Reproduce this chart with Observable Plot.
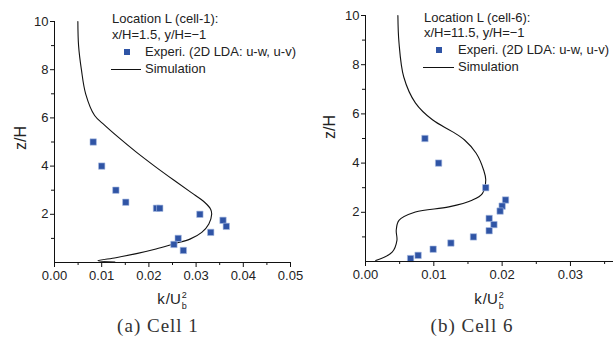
<!DOCTYPE html>
<html>
<head>
<meta charset="utf-8">
<script src="https://cdn.jsdelivr.net/npm/d3@7"></script>
<script src="https://cdn.jsdelivr.net/npm/@observablehq/plot@0.6"></script>
<style>
  body { margin: 0; background: #fff; }
  #wrap { position: relative; width: 613px; height: 342px; overflow: hidden;
          font-family: "Liberation Sans", Arial, sans-serif; color: #222; }
  #wrap svg { position: absolute; top: 0; }
  .abs { position: absolute; white-space: nowrap; }
  .leg { font-size: 13px; line-height: 14px; }
  .c { transform: translate(-50%, -50%); }
  .zl { font-size: 16px; transform: translate(-50%, -50%) rotate(-90deg); }
  .xl { font-size: 15px; line-height: 18px; }
  .ss { display: inline-block; vertical-align: -5px; font-size: 9px; line-height: 11px; margin-left: 1px; }
  .ss span { display: block; }
  .cap { font-family: "Liberation Serif", "Times New Roman", serif; font-size: 19px; letter-spacing: 1px; color: #333; }
  .mk { position: absolute; width: 6px; height: 6px; background: #2f54a5; }
  .ln { position: absolute; height: 1px; background: #111; }
</style>
</head>
<body>
<div id="wrap"></div>
<script>
// ---- Data: Cell 1 (location x/H=1.5) ----
const expK1 = [0.0082, 0.0100, 0.0130, 0.0151, 0.0216, 0.0223, 0.0308, 0.0357, 0.0364, 0.0331, 0.0262, 0.0253, 0.0273];
const expZ1 = [5, 4, 3, 2.5, 2.25, 2.25, 2.0, 1.75, 1.5, 1.25, 1.0, 0.75, 0.5];
const simK1 = [0.00495, 0.0051, 0.0057, 0.0066, 0.0085, 0.0106, 0.0135, 0.0172, 0.0212, 0.0254, 0.0290, 0.0318, 0.0331, 0.0333, 0.0327, 0.0312, 0.0287, 0.0254, 0.0215, 0.0176, 0.0130, 0.0092, 0.0128];
const simZ1 = [10, 9, 8, 7, 6.1, 5.7, 5.2, 4.6, 4.0, 3.4, 2.9, 2.5, 2.2, 2.0, 1.6, 1.25, 0.97, 0.78, 0.56, 0.38, 0.2, 0.07, 0.02];

// ---- Data: Cell 6 (location x/H=11.5) ----
const expK6 = [0.0087, 0.0107, 0.0176, 0.0205, 0.0200, 0.0197, 0.0181, 0.0188, 0.0181, 0.0158, 0.0125, 0.0099, 0.0077, 0.0066];
const expZ6 = [5, 4, 3, 2.5, 2.25, 2.05, 1.75, 1.5, 1.25, 1.0, 0.75, 0.5, 0.25, 0.12];
const simK6 = [0.00474, 0.0049, 0.0056, 0.0073, 0.0098, 0.0127, 0.0145, 0.0162, 0.0173, 0.0176, 0.0171, 0.0156, 0.0122, 0.0073, 0.0049, 0.0045, 0.0046, 0.0039, 0.0015];
const simZ6 = [10, 8.9, 7.5, 6.45, 5.76, 5.28, 4.94, 4.4, 3.71, 3.31, 2.76, 2.49, 2.22, 2.01, 1.67, 1.27, 0.86, 0.38, 0.04];

// ---- Ticks ----
const xTicks1 = [0, 0.01, 0.02, 0.03, 0.04, 0.05];
const xMinor1 = [0.005, 0.015, 0.025, 0.035, 0.045];
const xTicks6 = [0, 0.01, 0.02, 0.03];
const xMinor6 = [0.005, 0.015, 0.025, 0.035];
const yTicks = [2, 4, 6, 8, 10];
const yMinor = [1, 3, 5, 7, 9];

const legendTitle1 = ["Location L (cell-1):", "x/H=1.5, y/H=\u22121"];
const legendTitle6 = ["Location L (cell-6):", "x/H=11.5, y/H=\u22121"];
const seriesNames = ["Experi. (2D LDA: u-w, u-v)", "Simulation"];
const captions = ["(a) Cell 1", "(b) Cell 6"];

const pts = (ks, zs) => ks.map((k, i) => ({k, z: zs[i]}));

function panel(o) {
  return Plot.plot({
    width: o.width, height: o.height,
    marginLeft: o.mL, marginRight: o.mR, marginTop: o.mT, marginBottom: o.mB,
    style: {fontFamily: "'Liberation Sans', Arial, sans-serif", fontSize: "13px", color: "#222", background: "transparent", overflow: "visible"},
    x: {domain: o.xDomain},
    y: {domain: [0, 10]},
    marks: [
      Plot.line(o.sim, {x: "k", y: "z", curve: "catmull-rom", stroke: "#111", strokeWidth: 1.1}),
      Plot.dot(o.exp, {x: "k", y: "z", symbol: "square", r: 3.6, fill: "#2f54a5", stroke: "#a9bce2", strokeWidth: 0.6}),
      Plot.ruleX([o.xDomain[0]], {stroke: "#111"}),
      Plot.ruleY([0], {stroke: "#111"}),
      Plot.axisX({ticks: o.xTicks, tickFormat: d3.format(".2f"), tickSize: 5, tickPadding: 3, label: null, stroke: "#111"}),
      Plot.axisX({ticks: o.xMinor, tickFormat: () => "", tickSize: 3, label: null, stroke: "#111"}),
      Plot.axisY({ticks: yTicks, tickSize: 4, tickPadding: 2, label: null, stroke: "#111"}),
      Plot.axisY({ticks: yMinor, tickFormat: () => "", tickSize: 3, label: null, stroke: "#111"})
    ]
  });
}

const wrap = document.getElementById("wrap");

const p1 = panel({width: 305, height: 300, mL: 54, mR: 15, mT: 21, mB: 38,
  xDomain: [0, 0.05], xTicks: xTicks1, xMinor: xMinor1,
  exp: pts(expK1, expZ1), sim: pts(simK1, simZ1)});
p1.style.left = "0px";
wrap.appendChild(p1);

const p6 = panel({width: 308, height: 300, mL: 60, mR: 0, mT: 15, mB: 39,
  xDomain: [0, 0.0363], xTicks: xTicks6, xMinor: xMinor6,
  exp: pts(expK6, expZ6), sim: pts(simK6, simZ6)});
p6.style.left = "305px";
wrap.appendChild(p6);

function addText(html, cls, left, top) {
  const d = document.createElement("div");
  d.className = "abs " + cls;
  d.style.left = left + "px";
  d.style.top = top + "px";
  d.innerHTML = html;
  wrap.appendChild(d);
  return d;
}
function addBox(cls, left, top, w) {
  const d = document.createElement("div");
  d.className = cls;
  d.style.left = left + "px";
  d.style.top = top + "px";
  if (w) d.style.width = w + "px";
  wrap.appendChild(d);
}

function legend(titles, x0, xm, xt, yc) {
  addText(titles[0], "leg", x0, yc[0] - 7);
  addText(titles[1], "leg", x0, yc[1] - 7);
  addBox("mk", xm - 3, yc[2] - 3);
  addText(seriesNames[0], "leg", xt, yc[2] - 7);
  addBox("ln", x0 - 1, yc[3], xt - x0 - 3);
  addText(seriesNames[1], "leg", xt, yc[3] - 7);
}
legend(legendTitle1, 112, 127, 145, [19, 35, 52, 69]);
legend(legendTitle6, 424, 439, 458, [18, 33, 50, 67]);

// axis titles
addText("z/H", "zl", 21, 138);
addText("z/H", "zl", 330, 127);
const kLabel = 'k<span style="margin-left:1px">/</span>U<span class="ss"><span>2</span><span>b</span></span>';
addText(kLabel, "xl c", 172, 301);
addText(kLabel, "xl c", 489, 301);

// captions
addText(captions[0], "cap c", 158, 326);
addText(captions[1], "cap c", 472, 326);
</script>
</body>
</html>
